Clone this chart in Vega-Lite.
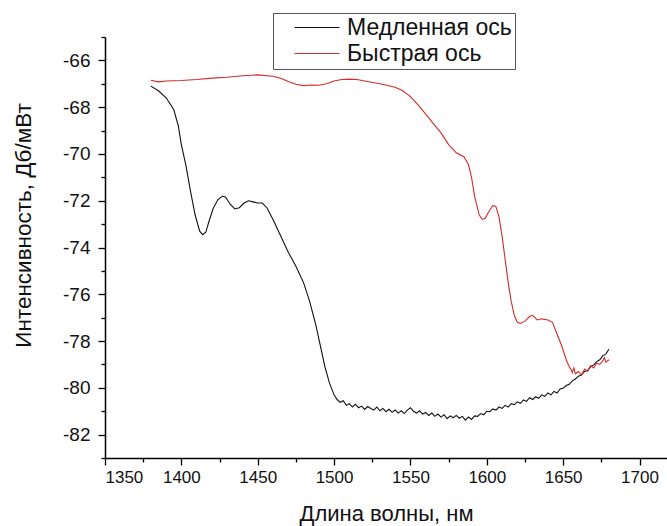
{
  "$schema": "https://vega.github.io/schema/vega-lite/v6.json",
  "width": 562,
  "height": 421,
  "autosize": "none",
  "padding": {"left": 105, "top": 37, "right": 0, "bottom": 68},
  "background": "white",
  "config": {
    "view": {"stroke": null},
    "font": "Liberation Sans",
    "axis": {
      "grid": false,
      "domainColor": "#000",
      "domainWidth": 1.5,
      "tickColor": "#000",
      "tickWidth": 1.3,
      "labelFont": "Liberation Sans",
      "labelFontSize": 17,
      "labelColor": "#111",
      "titleFont": "Liberation Sans",
      "titleFontSize": 22,
      "titleFontWeight": "normal",
      "titleColor": "#111"
    }
  },
  "datasets": {
    "spec": [
      {"wl": 1380, "v": -67.1, "s": "Медленная ось"},
      {"wl": 1385, "v": -67.3, "s": "Медленная ось"},
      {"wl": 1390, "v": -67.6, "s": "Медленная ось"},
      {"wl": 1395, "v": -68.1, "s": "Медленная ось"},
      {"wl": 1398, "v": -68.8, "s": "Медленная ось"},
      {"wl": 1400, "v": -69.6, "s": "Медленная ось"},
      {"wl": 1403, "v": -70.5, "s": "Медленная ось"},
      {"wl": 1406, "v": -71.6, "s": "Медленная ось"},
      {"wl": 1409, "v": -72.6, "s": "Медленная ось"},
      {"wl": 1412, "v": -73.3, "s": "Медленная ось"},
      {"wl": 1414, "v": -73.45, "s": "Медленная ось"},
      {"wl": 1416, "v": -73.35, "s": "Медленная ось"},
      {"wl": 1418, "v": -72.9, "s": "Медленная ось"},
      {"wl": 1421, "v": -72.3, "s": "Медленная ось"},
      {"wl": 1424, "v": -71.95, "s": "Медленная ось"},
      {"wl": 1427, "v": -71.8, "s": "Медленная ось"},
      {"wl": 1429, "v": -71.85, "s": "Медленная ось"},
      {"wl": 1432, "v": -72.15, "s": "Медленная ось"},
      {"wl": 1435, "v": -72.35, "s": "Медленная ось"},
      {"wl": 1438, "v": -72.3, "s": "Медленная ось"},
      {"wl": 1441, "v": -72.1, "s": "Медленная ось"},
      {"wl": 1444, "v": -72.0, "s": "Медленная ось"},
      {"wl": 1447, "v": -72.05, "s": "Медленная ось"},
      {"wl": 1450, "v": -72.1, "s": "Медленная ось"},
      {"wl": 1453, "v": -72.1, "s": "Медленная ось"},
      {"wl": 1456, "v": -72.3, "s": "Медленная ось"},
      {"wl": 1460, "v": -72.8, "s": "Медленная ось"},
      {"wl": 1465, "v": -73.5, "s": "Медленная ось"},
      {"wl": 1470, "v": -74.2, "s": "Медленная ось"},
      {"wl": 1475, "v": -74.8, "s": "Медленная ось"},
      {"wl": 1480, "v": -75.5, "s": "Медленная ось"},
      {"wl": 1484, "v": -76.3, "s": "Медленная ось"},
      {"wl": 1488, "v": -77.3, "s": "Медленная ось"},
      {"wl": 1491, "v": -78.2, "s": "Медленная ось"},
      {"wl": 1494, "v": -79.1, "s": "Медленная ось"},
      {"wl": 1497, "v": -79.8, "s": "Медленная ось"},
      {"wl": 1500, "v": -80.3, "s": "Медленная ось"},
      {"wl": 1502, "v": -80.5, "s": "Медленная ось"},
      {"wl": 1504, "v": -80.62, "s": "Медленная ось"},
      {"wl": 1506, "v": -80.55, "s": "Медленная ось"},
      {"wl": 1508, "v": -80.75, "s": "Медленная ось"},
      {"wl": 1510, "v": -80.68, "s": "Медленная ось"},
      {"wl": 1512, "v": -80.82, "s": "Медленная ось"},
      {"wl": 1514, "v": -80.7, "s": "Медленная ось"},
      {"wl": 1516, "v": -80.85, "s": "Медленная ось"},
      {"wl": 1518, "v": -80.78, "s": "Медленная ось"},
      {"wl": 1520, "v": -80.92, "s": "Медленная ось"},
      {"wl": 1522, "v": -80.8, "s": "Медленная ось"},
      {"wl": 1524, "v": -80.88, "s": "Медленная ось"},
      {"wl": 1526, "v": -80.95, "s": "Медленная ось"},
      {"wl": 1528, "v": -80.82, "s": "Медленная ось"},
      {"wl": 1530, "v": -80.98, "s": "Медленная ось"},
      {"wl": 1532, "v": -80.88, "s": "Медленная ось"},
      {"wl": 1534, "v": -81.02, "s": "Медленная ось"},
      {"wl": 1536, "v": -80.92, "s": "Медленная ось"},
      {"wl": 1538, "v": -81.05, "s": "Медленная ось"},
      {"wl": 1540, "v": -80.95, "s": "Медленная ось"},
      {"wl": 1542, "v": -81.08, "s": "Медленная ось"},
      {"wl": 1544, "v": -80.98, "s": "Медленная ось"},
      {"wl": 1546, "v": -81.1, "s": "Медленная ось"},
      {"wl": 1548, "v": -80.95, "s": "Медленная ось"},
      {"wl": 1550, "v": -80.85, "s": "Медленная ось"},
      {"wl": 1552, "v": -81.0, "s": "Медленная ось"},
      {"wl": 1554, "v": -81.08, "s": "Медленная ось"},
      {"wl": 1556, "v": -80.98, "s": "Медленная ось"},
      {"wl": 1558, "v": -81.12, "s": "Медленная ось"},
      {"wl": 1560, "v": -81.05, "s": "Медленная ось"},
      {"wl": 1562, "v": -81.18, "s": "Медленная ось"},
      {"wl": 1564, "v": -81.08, "s": "Медленная ось"},
      {"wl": 1566, "v": -81.22, "s": "Медленная ось"},
      {"wl": 1568, "v": -81.12, "s": "Медленная ось"},
      {"wl": 1570, "v": -81.25, "s": "Медленная ось"},
      {"wl": 1572, "v": -81.15, "s": "Медленная ось"},
      {"wl": 1574, "v": -81.32, "s": "Медленная ось"},
      {"wl": 1576, "v": -81.2, "s": "Медленная ось"},
      {"wl": 1578, "v": -81.28, "s": "Медленная ось"},
      {"wl": 1580, "v": -81.18, "s": "Медленная ось"},
      {"wl": 1582, "v": -81.3, "s": "Медленная ось"},
      {"wl": 1584, "v": -81.22, "s": "Медленная ось"},
      {"wl": 1586, "v": -81.38, "s": "Медленная ось"},
      {"wl": 1588, "v": -81.25, "s": "Медленная ось"},
      {"wl": 1590, "v": -81.35, "s": "Медленная ось"},
      {"wl": 1592, "v": -81.2, "s": "Медленная ось"},
      {"wl": 1594, "v": -81.22, "s": "Медленная ось"},
      {"wl": 1596, "v": -81.1, "s": "Медленная ось"},
      {"wl": 1598, "v": -81.15, "s": "Медленная ось"},
      {"wl": 1600, "v": -81.0, "s": "Медленная ось"},
      {"wl": 1602, "v": -81.02, "s": "Медленная ось"},
      {"wl": 1604, "v": -80.9, "s": "Медленная ось"},
      {"wl": 1606, "v": -80.95, "s": "Медленная ось"},
      {"wl": 1608, "v": -80.82, "s": "Медленная ось"},
      {"wl": 1610, "v": -80.88, "s": "Медленная ось"},
      {"wl": 1612, "v": -80.75, "s": "Медленная ось"},
      {"wl": 1614, "v": -80.82, "s": "Медленная ось"},
      {"wl": 1616, "v": -80.68, "s": "Медленная ось"},
      {"wl": 1618, "v": -80.72, "s": "Медленная ось"},
      {"wl": 1620, "v": -80.6, "s": "Медленная ось"},
      {"wl": 1622, "v": -80.66, "s": "Медленная ось"},
      {"wl": 1624, "v": -80.52, "s": "Медленная ось"},
      {"wl": 1626, "v": -80.58, "s": "Медленная ось"},
      {"wl": 1628, "v": -80.42, "s": "Медленная ось"},
      {"wl": 1630, "v": -80.5, "s": "Медленная ось"},
      {"wl": 1632, "v": -80.38, "s": "Медленная ось"},
      {"wl": 1634, "v": -80.45, "s": "Медленная ось"},
      {"wl": 1636, "v": -80.3, "s": "Медленная ось"},
      {"wl": 1638, "v": -80.36, "s": "Медленная ось"},
      {"wl": 1640, "v": -80.22, "s": "Медленная ось"},
      {"wl": 1642, "v": -80.3, "s": "Медленная ось"},
      {"wl": 1644, "v": -80.15, "s": "Медленная ось"},
      {"wl": 1646, "v": -80.22, "s": "Медленная ось"},
      {"wl": 1648, "v": -80.05, "s": "Медленная ось"},
      {"wl": 1650, "v": -80.02, "s": "Медленная ось"},
      {"wl": 1652, "v": -79.9, "s": "Медленная ось"},
      {"wl": 1654, "v": -79.85, "s": "Медленная ось"},
      {"wl": 1656, "v": -79.7, "s": "Медленная ось"},
      {"wl": 1658, "v": -79.62, "s": "Медленная ось"},
      {"wl": 1660, "v": -79.5, "s": "Медленная ось"},
      {"wl": 1662, "v": -79.45, "s": "Медленная ось"},
      {"wl": 1664, "v": -79.3, "s": "Медленная ось"},
      {"wl": 1666, "v": -79.25, "s": "Медленная ось"},
      {"wl": 1668, "v": -79.1, "s": "Медленная ось"},
      {"wl": 1670, "v": -79.02, "s": "Медленная ось"},
      {"wl": 1672, "v": -78.88, "s": "Медленная ось"},
      {"wl": 1674, "v": -78.8, "s": "Медленная ось"},
      {"wl": 1676, "v": -78.62, "s": "Медленная ось"},
      {"wl": 1678, "v": -78.55, "s": "Медленная ось"},
      {"wl": 1680, "v": -78.35, "s": "Медленная ось"},
      {"wl": 1380, "v": -66.85, "s": "Быстрая ось"},
      {"wl": 1385, "v": -66.92, "s": "Быстрая ось"},
      {"wl": 1390, "v": -66.88, "s": "Быстрая ось"},
      {"wl": 1400, "v": -66.86, "s": "Быстрая ось"},
      {"wl": 1410, "v": -66.82, "s": "Быстрая ось"},
      {"wl": 1420, "v": -66.76, "s": "Быстрая ось"},
      {"wl": 1430, "v": -66.72, "s": "Быстрая ось"},
      {"wl": 1440, "v": -66.66, "s": "Быстрая ось"},
      {"wl": 1450, "v": -66.62, "s": "Быстрая ось"},
      {"wl": 1460, "v": -66.68, "s": "Быстрая ось"},
      {"wl": 1465, "v": -66.76, "s": "Быстрая ось"},
      {"wl": 1470, "v": -66.9, "s": "Быстрая ось"},
      {"wl": 1475, "v": -67.02, "s": "Быстрая ось"},
      {"wl": 1480, "v": -67.08, "s": "Быстрая ось"},
      {"wl": 1485, "v": -67.05, "s": "Быстрая ось"},
      {"wl": 1490, "v": -67.06, "s": "Быстрая ось"},
      {"wl": 1495, "v": -67.0, "s": "Быстрая ось"},
      {"wl": 1500, "v": -66.88, "s": "Быстрая ось"},
      {"wl": 1505, "v": -66.82, "s": "Быстрая ось"},
      {"wl": 1510, "v": -66.8, "s": "Быстрая ось"},
      {"wl": 1515, "v": -66.82, "s": "Быстрая ось"},
      {"wl": 1520, "v": -66.88, "s": "Быстрая ось"},
      {"wl": 1530, "v": -67.0, "s": "Быстрая ось"},
      {"wl": 1540, "v": -67.15, "s": "Быстрая ось"},
      {"wl": 1545, "v": -67.3, "s": "Быстрая ось"},
      {"wl": 1550, "v": -67.55, "s": "Быстрая ось"},
      {"wl": 1555, "v": -67.9, "s": "Быстрая ось"},
      {"wl": 1560, "v": -68.3, "s": "Быстрая ось"},
      {"wl": 1565, "v": -68.7, "s": "Быстрая ось"},
      {"wl": 1570, "v": -69.1, "s": "Быстрая ось"},
      {"wl": 1575, "v": -69.6, "s": "Быстрая ось"},
      {"wl": 1580, "v": -69.95, "s": "Быстрая ось"},
      {"wl": 1585, "v": -70.12, "s": "Быстрая ось"},
      {"wl": 1588, "v": -70.45, "s": "Быстрая ось"},
      {"wl": 1590, "v": -71.0, "s": "Быстрая ось"},
      {"wl": 1592, "v": -71.8, "s": "Быстрая ось"},
      {"wl": 1595, "v": -72.6, "s": "Быстрая ось"},
      {"wl": 1597, "v": -72.8, "s": "Быстрая ось"},
      {"wl": 1599, "v": -72.75, "s": "Быстрая ось"},
      {"wl": 1601, "v": -72.5, "s": "Быстрая ось"},
      {"wl": 1604, "v": -72.2, "s": "Быстрая ось"},
      {"wl": 1606, "v": -72.25, "s": "Быстрая ось"},
      {"wl": 1608, "v": -72.7, "s": "Быстрая ось"},
      {"wl": 1610, "v": -73.5, "s": "Быстрая ось"},
      {"wl": 1612, "v": -74.5, "s": "Быстрая ось"},
      {"wl": 1614, "v": -75.5, "s": "Быстрая ось"},
      {"wl": 1616, "v": -76.3, "s": "Быстрая ось"},
      {"wl": 1618, "v": -76.9, "s": "Быстрая ось"},
      {"wl": 1620, "v": -77.2, "s": "Быстрая ось"},
      {"wl": 1622, "v": -77.25, "s": "Быстрая ось"},
      {"wl": 1625, "v": -77.15, "s": "Быстрая ось"},
      {"wl": 1628, "v": -76.95, "s": "Быстрая ось"},
      {"wl": 1630, "v": -76.9, "s": "Быстрая ось"},
      {"wl": 1633, "v": -77.1, "s": "Быстрая ось"},
      {"wl": 1636, "v": -77.05, "s": "Быстрая ось"},
      {"wl": 1640, "v": -77.1, "s": "Быстрая ось"},
      {"wl": 1643, "v": -77.2, "s": "Быстрая ось"},
      {"wl": 1646, "v": -77.7, "s": "Быстрая ось"},
      {"wl": 1649, "v": -78.2, "s": "Быстрая ось"},
      {"wl": 1652, "v": -78.8, "s": "Быстрая ось"},
      {"wl": 1654, "v": -79.1, "s": "Быстрая ось"},
      {"wl": 1655, "v": -79.2, "s": "Быстрая ось"},
      {"wl": 1656, "v": -79.35, "s": "Быстрая ось"},
      {"wl": 1657, "v": -79.15, "s": "Быстрая ось"},
      {"wl": 1658, "v": -79.4, "s": "Быстрая ось"},
      {"wl": 1660, "v": -79.3, "s": "Быстрая ось"},
      {"wl": 1662, "v": -79.45, "s": "Быстрая ось"},
      {"wl": 1664, "v": -79.2, "s": "Быстрая ось"},
      {"wl": 1666, "v": -79.3, "s": "Быстрая ось"},
      {"wl": 1668, "v": -79.05, "s": "Быстрая ось"},
      {"wl": 1670, "v": -79.15, "s": "Быстрая ось"},
      {"wl": 1672, "v": -78.95, "s": "Быстрая ось"},
      {"wl": 1674, "v": -79.0, "s": "Быстрая ось"},
      {"wl": 1676, "v": -78.85, "s": "Быстрая ось"},
      {"wl": 1677, "v": -78.7, "s": "Быстрая ось"},
      {"wl": 1678, "v": -78.9, "s": "Быстрая ось"},
      {"wl": 1680, "v": -78.8, "s": "Быстрая ось"}
    ]
  },
  "data": {"name": "spec"},
  "resolve": {"axis": {"x": "independent", "y": "independent"}},
  "layer": [
    {
      "mark": {"type": "line", "opacity": 0},
      "encoding": {
        "x": {"field": "wl", "type": "quantitative", "scale": {"domain": [1350, 1718], "nice": false, "zero": false},
          "axis": {"orient": "bottom", "values": [1375, 1425, 1475, 1525, 1575, 1625, 1675], "labels": false, "domain": false, "tickSize": 4, "title": null}},
        "y": {"field": "v", "type": "quantitative", "scale": {"domain": [-83, -65], "nice": false, "zero": false},
          "axis": {"orient": "left", "values": [-83, -81, -79, -77, -75, -73, -71, -69, -67, -65], "labels": false, "domain": false, "tickSize": 4, "title": null}},
        "detail": {"field": "s"}
      }
    },
    {
      "mark": {"type": "line", "strokeWidth": 1.1, "interpolate": "linear"},
      "encoding": {
        "x": {"field": "wl", "type": "quantitative",
          "axis": {"orient": "bottom", "values": [1350, 1400, 1450, 1500, 1550, 1600, 1650, 1700], "labelExpr": "'' + datum.value", "tickSize": 7, "labelPadding": 4, "title": "Длина волны, нм", "titleBaseline": "alphabetic", "titleY": 62}},
        "y": {"field": "v", "type": "quantitative",
          "axis": {"orient": "left", "values": [-82, -80, -78, -76, -74, -72, -70, -68, -66], "labelExpr": "'' + datum.value", "labelFontSize": 19, "tickSize": 7, "labelPadding": 8, "title": "Интенсивность, Дб/мВт", "titleFontSize": 22.5, "titleAngle": 270, "titleBaseline": "middle", "titleAlign": "center", "titleX": -82, "titleY": 188}},
        "color": {"field": "s", "type": "nominal",
          "scale": {"domain": ["Медленная ось", "Быстрая ось"], "range": ["#111111", "#d42a2a"]},
          "legend": {"title": null, "orient": "none", "legendX": 168, "legendY": -24,
            "strokeColor": "#555", "padding": 3, "symbolType": "M0.7,0H5.2", "symbolSize": 400,
            "symbolStrokeWidth": 1.1, "labelFontSize": 23, "labelFont": "Liberation Sans", "labelColor": "#111",
            "labelLimit": 400, "rowPadding": 2, "labelOffset": 48, "fillColor": "white"}}
      }
    }
  ]
}
